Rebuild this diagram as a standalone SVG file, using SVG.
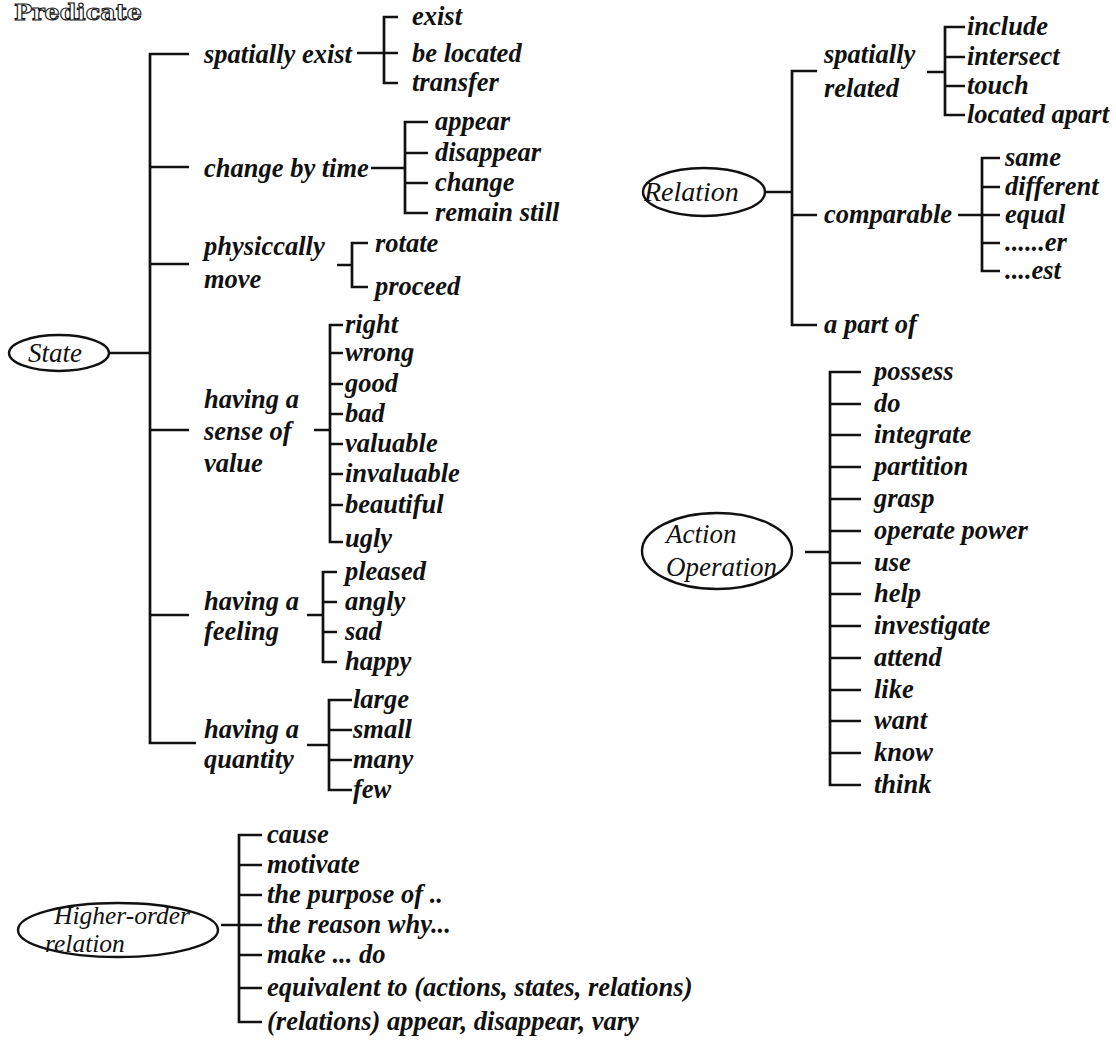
<svg xmlns="http://www.w3.org/2000/svg" width="1116" height="1041" viewBox="0 0 1116 1041">
  <style>
    .ln { fill: none; stroke: #111; stroke-width: 2.7; stroke-linecap: butt; stroke-linejoin: miter; }
    .ov { fill: none; stroke: #111; stroke-width: 2.4; }
    .lb { font-family: "Liberation Serif", "Times New Roman", serif; font-style: italic; font-weight: bold; font-size: 26.5px; fill: #111; }
    .hd { font-family: "Liberation Serif", "Times New Roman", serif; font-style: italic; font-size: 27px; fill: #111; }
    .ttl { font-family: "DejaVu Serif", "Liberation Serif", serif; font-weight: bold; font-size: 23px; fill: #fff; stroke: #111; stroke-width: 1.1; }
  </style>
  <rect width="1116" height="1041" fill="#fff"/>

  <text class="ttl" x="14" y="20" textLength="128" lengthAdjust="spacingAndGlyphs">Predicate</text>

  <!-- brackets and ties -->
  <g id="connectors">
    <!-- State -->
    <path class="ln" d="M109 353 H150"/>
    <path class="ln" d="M189 54 H150 V743 H196"/>
    <path class="ln" d="M150 167 H189 M150 264 H189 M150 430 H189 M150 615 H189"/>
    <!-- spatially exist -->
    <path class="ln" d="M357 53 H398 M398 17 H384 V83 H398"/>
    <!-- change by time -->
    <path class="ln" d="M371 168 H405 M428 122 H405 V213 H428 M405 153 H428 M405 183 H428"/>
    <!-- physiccally move -->
    <path class="ln" d="M337 265 H352 M368 243 H352 V287 H368"/>
    <!-- sense of value -->
    <path class="ln" d="M314 430 H330 M343 325 H330 V542 H343 M330 353 H343 M330 384 H343 M330 414 H343 M330 444 H343 M330 474 H343 M330 505 H343"/>
    <!-- feeling -->
    <path class="ln" d="M307 615 H323 M337 572 H323 V662 H337 M323 602 H337 M323 632 H337"/>
    <!-- quantity -->
    <path class="ln" d="M307 745 H329 M352 700 H329 V790 H352 M329 730 H352 M329 760 H352"/>

    <!-- Relation -->
    <path class="ln" d="M766 192 H792 M817 71 H792 V325 H817 M792 215 H817"/>
    <path class="ln" d="M927 72 H945 M965 27 H945 V115 H965 M945 57 H965 M945 86 H965"/>
    <path class="ln" d="M958 215 H1000 M1000 158 H982 V271 H1000 M982 187 H1000 M982 243 H1000"/>

    <!-- Action / Operation -->
    <path class="ln" d="M805 552 H830 M861 372 H830 V785 H861 M830 404 H861 M830 435 H861 M830 467 H861 M830 499 H861 M830 531 H861 M830 563 H861 M830 594 H861 M830 626 H861 M830 658 H861 M830 690 H861 M830 721 H861 M830 753 H861"/>

    <!-- Higher-order relation -->
    <path class="ln" d="M221 925 H262 M262 835 H239 V1022 H262 M239 865 H262 M239 895 H262 M239 955 H262 M239 988 H262"/>
  </g>

  <!-- State -->
  <g id="state">
    <ellipse class="ov" cx="59" cy="353" rx="50" ry="18"/>
    <text class="hd" x="28" y="362">State</text>
  </g>
  <g id="spatially-exist"><text class="lb" x="204" y="63">spatially exist</text></g>
  <g id="exist"><text class="lb" x="412" y="25">exist</text></g>
  <g id="be-located"><text class="lb" x="412" y="62">be located</text></g>
  <g id="transfer"><text class="lb" x="412" y="91">transfer</text></g>

  <g id="change-by-time"><text class="lb" x="204" y="177">change by time</text></g>
  <g id="appear"><text class="lb" x="435" y="130">appear</text></g>
  <g id="disappear"><text class="lb" x="435" y="161">disappear</text></g>
  <g id="change"><text class="lb" x="435" y="191">change</text></g>
  <g id="remain-still"><text class="lb" x="435" y="221">remain still</text></g>

  <g id="physiccally-move">
    <text class="lb" x="204" y="255">physiccally</text>
    <text class="lb" x="204" y="288">move</text>
  </g>
  <g id="rotate"><text class="lb" x="375" y="252">rotate</text></g>
  <g id="proceed"><text class="lb" x="375" y="295">proceed</text></g>

  <g id="sense-of-value">
    <text class="lb" x="204" y="408">having a</text>
    <text class="lb" x="204" y="440">sense of</text>
    <text class="lb" x="204" y="472">value</text>
  </g>
  <g id="right"><text class="lb" x="345" y="333">right</text></g>
  <g id="wrong"><text class="lb" x="345" y="361">wrong</text></g>
  <g id="good"><text class="lb" x="345" y="392">good</text></g>
  <g id="bad"><text class="lb" x="345" y="422">bad</text></g>
  <g id="valuable"><text class="lb" x="345" y="452">valuable</text></g>
  <g id="invaluable"><text class="lb" x="345" y="482">invaluable</text></g>
  <g id="beautiful"><text class="lb" x="345" y="513">beautiful</text></g>
  <g id="ugly"><text class="lb" x="345" y="547">ugly</text></g>

  <g id="feeling">
    <text class="lb" x="204" y="610">having a</text>
    <text class="lb" x="204" y="640">feeling</text>
  </g>
  <g id="pleased"><text class="lb" x="345" y="580">pleased</text></g>
  <g id="angly"><text class="lb" x="345" y="610">angly</text></g>
  <g id="sad"><text class="lb" x="345" y="640">sad</text></g>
  <g id="happy"><text class="lb" x="345" y="670">happy</text></g>

  <g id="quantity">
    <text class="lb" x="204" y="738">having a</text>
    <text class="lb" x="204" y="768">quantity</text>
  </g>
  <g id="large"><text class="lb" x="353" y="708">large</text></g>
  <g id="small"><text class="lb" x="353" y="738">small</text></g>
  <g id="many"><text class="lb" x="353" y="768">many</text></g>
  <g id="few"><text class="lb" x="353" y="798">few</text></g>

  <!-- Relation -->
  <g id="relation">
    <ellipse class="ov" cx="704" cy="192" rx="61" ry="24"/>
    <text class="hd" x="644" y="201" style="font-size:28px">Relation</text>
  </g>
  <g id="spatially-related">
    <text class="lb" x="824" y="63">spatially</text>
    <text class="lb" x="824" y="97">related</text>
  </g>
  <g id="include"><text class="lb" x="967" y="35">include</text></g>
  <g id="intersect"><text class="lb" x="967" y="65">intersect</text></g>
  <g id="touch"><text class="lb" x="967" y="94">touch</text></g>
  <g id="located-apart"><text class="lb" x="967" y="123">located apart</text></g>

  <g id="comparable"><text class="lb" x="824" y="223">comparable</text></g>
  <g id="same"><text class="lb" x="1005" y="166">same</text></g>
  <g id="different"><text class="lb" x="1005" y="195">different</text></g>
  <g id="equal"><text class="lb" x="1005" y="223">equal</text></g>
  <g id="er"><text class="lb" x="1005" y="251">......er</text></g>
  <g id="est"><text class="lb" x="1005" y="279">....est</text></g>

  <g id="a-part-of"><text class="lb" x="824" y="333">a part of</text></g>

  <!-- Action / Operation -->
  <g id="action-operation">
    <ellipse class="ov" cx="717" cy="551" rx="75" ry="38"/>
    <text class="hd" x="666" y="543">Action</text>
    <text class="hd" x="666" y="576">Operation</text>
  </g>
  <g id="possess"><text class="lb" x="874" y="380">possess</text></g>
  <g id="do"><text class="lb" x="874" y="412">do</text></g>
  <g id="integrate"><text class="lb" x="874" y="443">integrate</text></g>
  <g id="partition"><text class="lb" x="874" y="475">partition</text></g>
  <g id="grasp"><text class="lb" x="874" y="507">grasp</text></g>
  <g id="operate-power"><text class="lb" x="874" y="539">operate power</text></g>
  <g id="use"><text class="lb" x="874" y="571">use</text></g>
  <g id="help"><text class="lb" x="874" y="602">help</text></g>
  <g id="investigate"><text class="lb" x="874" y="634">investigate</text></g>
  <g id="attend"><text class="lb" x="874" y="666">attend</text></g>
  <g id="like"><text class="lb" x="874" y="698">like</text></g>
  <g id="want"><text class="lb" x="874" y="729">want</text></g>
  <g id="know"><text class="lb" x="874" y="761">know</text></g>
  <g id="think"><text class="lb" x="874" y="793">think</text></g>

  <!-- Higher-order relation -->
  <g id="higher-order-relation">
    <ellipse class="ov" cx="118" cy="930" rx="100" ry="27"/>
    <text class="hd" x="54" y="924" style="font-size:25.5px">Higher-order</text>
    <text class="hd" x="45" y="952" style="font-size:25.5px">relation</text>
  </g>
  <g id="cause"><text class="lb" x="267" y="843">cause</text></g>
  <g id="motivate"><text class="lb" x="267" y="873">motivate</text></g>
  <g id="purpose-of"><text class="lb" x="267" y="903">the purpose of ..</text></g>
  <g id="reason-why"><text class="lb" x="267" y="933">the reason why...</text></g>
  <g id="make-do"><text class="lb" x="267" y="963">make ... do</text></g>
  <g id="equivalent-to"><text class="lb" x="267" y="996">equivalent to (actions, states, relations)</text></g>
  <g id="relations-vary"><text class="lb" x="267" y="1030">(relations)  appear, disappear, vary</text></g>
</svg>
